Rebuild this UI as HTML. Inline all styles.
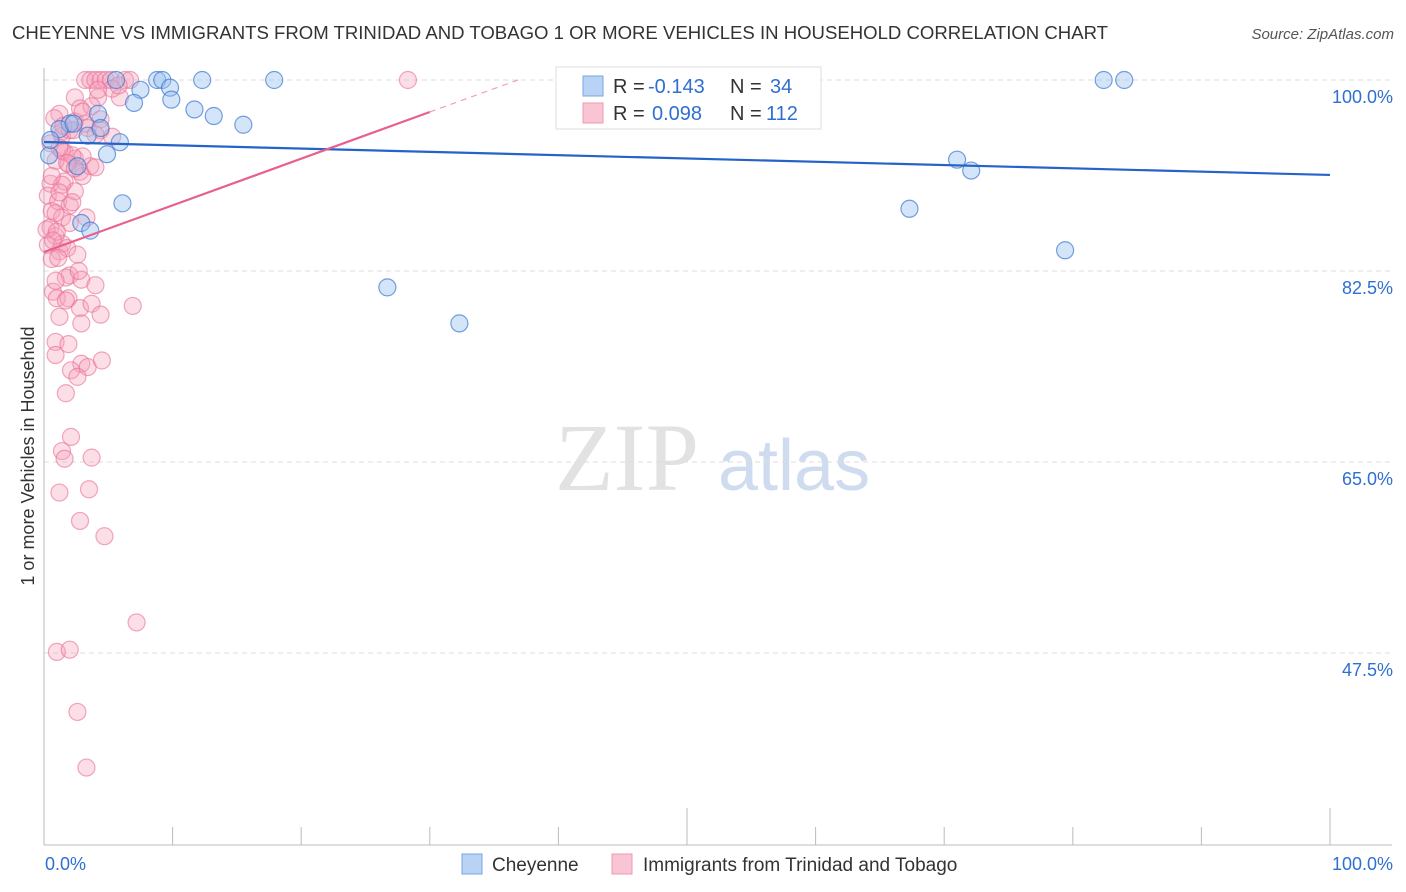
<!DOCTYPE html>
<html><head><meta charset="utf-8"><style>
body{margin:0;background:#fff;font-family:"Liberation Sans",sans-serif;}
svg{display:block}
</style></head><body>
<svg id="chart" width="1406" height="892">
<text x="12" y="39" font-size="18" fill="#333" textLength="1096" lengthAdjust="spacingAndGlyphs">CHEYENNE VS IMMIGRANTS FROM TRINIDAD AND TOBAGO 1 OR MORE VEHICLES IN HOUSEHOLD CORRELATION CHART</text>
<text x="1394" y="39" font-size="15" fill="#555" font-style="italic" text-anchor="end">Source: ZipAtlas.com</text>
<text x="34" y="456" font-size="18" fill="#333" text-anchor="middle" transform="rotate(-90 34 456)">1 or more Vehicles in Household</text>
<text x="555" y="490" font-size="96" fill="#e2e2e2" font-family="Liberation Serif,serif">ZIP</text>
<text x="718" y="490" font-size="72" fill="#cfdcf0">atlas</text>
<g id="grid"></g><g id="pts"></g><g id="lines"></g>
<g>
<rect x="556" y="67" width="265" height="62" fill="#fff" stroke="#ddd"/>
<rect x="583" y="76" width="20" height="20" fill="#b8d3f5" stroke="#7aa6e0"/>
<rect x="583" y="103" width="20" height="20" fill="#f9c4d3" stroke="#ee9ab3"/>
<g font-size="20" fill="#333">
<text x="613" y="93">R =</text><text x="648" y="93" fill="#2f6fd0">-0.143</text><text x="730" y="93">N =</text><text x="770" y="93" fill="#2f6fd0">34</text></g>
<g font-size="20" fill="#333">
<text x="613" y="120">R =</text><text x="652" y="120" fill="#2f6fd0">0.098</text><text x="730" y="120">N =</text><text x="766" y="120" fill="#2f6fd0">112</text></g>
</g>
<g>
<rect x="462" y="854" width="20" height="20" fill="#b8d3f5" stroke="#7aa6e0"/>
<text x="492" y="871" font-size="19" fill="#333">Cheyenne</text>
<rect x="612" y="854" width="20" height="20" fill="#f9c4d3" stroke="#ee9ab3"/>
<text x="643" y="871" font-size="19" fill="#333">Immigrants from Trinidad and Tobago</text>
</g>
</svg>
<script>
const yTicks=[100,82.5,65,47.5];
const xTickLabels=["0.0%","100.0%"];
const blueX=[5.6,8.8,9.2,12.3,17.9,82.4,84.0,7.5,9.8,7.0,9.9,11.7,13.2,15.5,4.2,2.0,3.4,5.9,4.9,2.6,0.4,6.1,2.9,3.6,71.0,72.1,67.3,79.4,26.7,32.3,1.2,4.4,2.3,0.5];
const blueY=[100,100,100,100,100,100,100,99.1,99.3,97.9,98.2,97.3,96.7,95.9,96.9,96.0,94.9,94.3,93.2,92.1,93.1,88.7,86.9,86.2,92.7,91.7,88.2,84.4,81.0,77.7,95.5,95.6,96.0,94.5];
const pinkX=[3.2,3.6,4.0,4.4,4.8,5.2,6.3,6.7,28.3,4.2,5.9,2.4,2.8,3.7,4.4,5.3,5.8,4.2,1.3,1.4,2.0,2.4,3.4,4.4,5.3,1.6,2.4,1.9,2.8,3.6,3.0,4.0,0.5,0.9,1.4,2.2,0.5,0.3,0.6,1.1,2.0,1.4,0.5,0.9,1.2,0.3,0.6,2.0,1.6,2.4,0.9,0.2,1.4,2.0,2.9,1.7,0.7,1.0,1.9,2.8,3.7,6.9,1.2,2.9,4.4,0.9,1.9,0.9,2.9,3.4,4.5,2.1,2.6,1.7,2.1,1.4,3.7,1.6,3.5,1.2,2.8,4.7,7.2,1.0,2.0,2.6,3.3,1.2,3.2,4.0,2.3,0.8,1.5,3.0,1.2,1.8,3.0,2.4,1.4,0.6,1.2,2.2,3.3,1.0,0.7,1.8,2.6,1.1,2.7,4.0,0.9,1.7];
const pinkY=[100,100,100,100,100,100,100,100,100,98.4,98.4,98.4,97.4,97.6,96.4,99.2,99.5,99.1,95.2,94.9,95.4,96.2,95.6,95.4,94.8,93.4,92.8,92.3,91.6,92.1,91.2,92.0,94.2,92.6,93.5,93.1,90.5,89.4,88.0,88.9,88.5,87.4,86.5,85.7,84.3,84.9,83.6,86.9,90.7,89.8,87.8,86.3,85.0,82.1,81.7,81.9,80.6,80.0,80.0,79.1,79.5,79.3,78.3,77.7,78.5,76.0,75.8,74.8,74.0,73.7,74.3,73.4,72.8,71.3,67.3,66.0,65.4,65.3,62.5,62.2,59.6,58.2,50.3,47.6,47.8,42.1,37.0,96.9,96.0,95.0,95.4,96.5,95.8,97.1,93.8,92.4,93.0,91.9,90.4,91.2,89.7,88.8,87.4,86.1,85.3,84.6,84.0,83.7,82.5,81.2,81.6,79.8];
const blueTrend=[94.32,91.30];
const pinkTrend=[84.24,97.07];
const X=v=>44+v*12.86, Y=v=>80+(100-v)*10.914;
const NS="http://www.w3.org/2000/svg";
function mk(t,a,p){const e=document.createElementNS(NS,t);for(const k in a)e.setAttribute(k,a[k]);p.appendChild(e);return e;}
const grid=document.getElementById('grid');
yTicks.forEach((t,i)=>{
 const l=mk('line',{x1:44,x2:1392,y1:Y(t),y2:Y(t),stroke:'#ddd','stroke-dasharray':'5,4'},grid);
 
 
 const tx=mk('text',{x:1393,y:Y(t)+23,'font-size':18,fill:'#2f6fd0','text-anchor':'end'},grid);
 tx.textContent=t.toFixed(1)+'%';
 
 
});
const ax=mk('line',{x1:44,x2:1392,y1:845,y2:845,stroke:'#bbb'},grid);


const ay=mk('line',{x1:44,x2:44,y1:68,y2:845,stroke:'#bbb'},grid);


for(let k=1;k<=10;k++){
 const len=(k==5||k==10)?37:18;
 const t=mk('line',{x1:X(k*10),x2:X(k*10),y1:845,y2:845-len,stroke:'#bbb'},grid);
 
 
}
[[0,'start',45],[100,'end',1393]].forEach((d,i)=>{
 const t=mk('text',{x:d[2],y:870,'font-size':18,fill:'#2f6fd0','text-anchor':d[1]},grid);
 t.textContent=xTickLabels[i];
 
 
});
const pts=document.getElementById('pts');
pinkX.forEach((x,i)=>{
 const c=mk('circle',{cx:X(x),cy:Y(pinkY[i]),r:8.5,fill:'rgba(246,160,185,0.35)',stroke:'rgba(232,110,150,0.6)','stroke-width':1.2},pts);
 
 
});
blueX.forEach((x,i)=>{
 const c=mk('circle',{cx:X(x),cy:Y(blueY[i]),r:8.5,fill:'rgba(150,190,240,0.4)',stroke:'rgba(60,120,210,0.7)','stroke-width':1.2},pts);
 
 
});
const lines=document.getElementById('lines');
const bl=mk('line',{x1:X(0),y1:Y(blueTrend[0]),x2:X(100),y2:Y(blueTrend[1]),stroke:'#2563c9','stroke-width':2.2},lines);


const pl=mk('line',{x1:X(0),y1:Y(pinkTrend[0]),x2:X(30),y2:Y(pinkTrend[1]),stroke:'#e8608c','stroke-width':2.2},lines);


const slope=(pinkTrend[1]-pinkTrend[0])/30;
const xe=(100-pinkTrend[0])/slope;
const pd=mk('line',{x1:X(30),y1:Y(pinkTrend[1]),x2:X(xe),y2:Y(100),stroke:'#f0a0b8','stroke-width':1.2,'stroke-dasharray':'6,5'},lines);


</script>
</body></html>
